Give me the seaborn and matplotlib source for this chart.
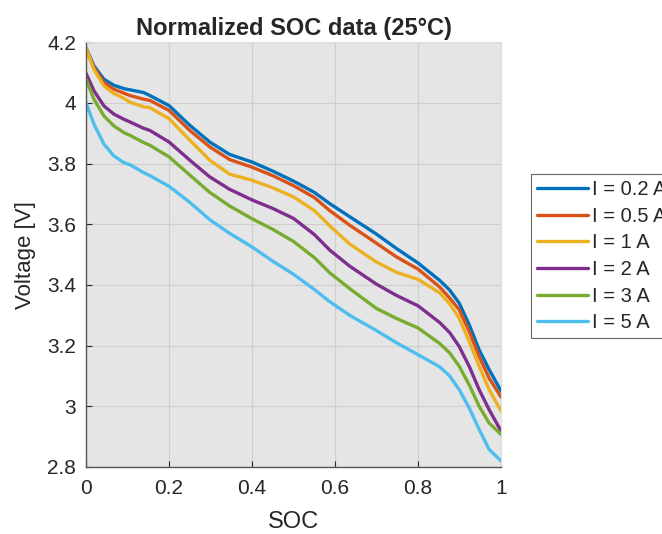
import numpy as np
import pandas as pd
import seaborn as sns
import matplotlib
matplotlib.use("Agg")
import matplotlib.pyplot as plt

# values
soc = [0, 0.019, 0.043, 0.067, 0.091, 0.106, 0.139, 0.154, 0.2, 0.25, 0.298, 0.346,
       0.4, 0.45, 0.5, 0.55, 0.587, 0.635, 0.699, 0.747, 0.8, 0.852, 0.876, 0.899,
       0.923, 0.947, 0.971, 1.0]

v_02 = [4.18, 4.122, 4.078, 4.058, 4.047, 4.043, 4.034, 4.024, 3.991, 3.926, 3.871, 3.83,
        3.805, 3.775, 3.742, 3.705, 3.668, 3.625, 3.568, 3.521, 3.472, 3.415, 3.383, 3.34,
        3.269, 3.186, 3.121, 3.05]
v_05 = [4.18, 4.116, 4.067, 4.045, 4.032, 4.024, 4.012, 4.008, 3.975, 3.909, 3.855, 3.813,
        3.788, 3.76, 3.727, 3.688, 3.645, 3.597, 3.538, 3.493, 3.452, 3.393, 3.357, 3.318,
        3.247, 3.164, 3.093, 3.03]
v_1 = [4.18, 4.11, 4.056, 4.031, 4.015, 4.002, 3.987, 3.984, 3.948, 3.877, 3.811, 3.765,
       3.745, 3.72, 3.69, 3.645, 3.595, 3.535, 3.476, 3.442, 3.418, 3.374, 3.338, 3.29,
       3.214, 3.132, 3.055, 2.984]
v_2 = [4.097, 4.04, 3.99, 3.963, 3.946, 3.937, 3.916, 3.909, 3.871, 3.811, 3.756, 3.715,
       3.68, 3.652, 3.619, 3.566, 3.515, 3.462, 3.403, 3.366, 3.331, 3.276, 3.243, 3.197,
       3.132, 3.055, 2.989, 2.918]
v_3 = [4.078, 4.012, 3.957, 3.924, 3.902, 3.893, 3.869, 3.86, 3.822, 3.762, 3.705, 3.66,
       3.618, 3.583, 3.543, 3.49, 3.44, 3.388, 3.323, 3.29, 3.258, 3.207, 3.176, 3.132,
       3.071, 3.0, 2.945, 2.907]
v_5 = [4.0, 3.93, 3.864, 3.825, 3.803, 3.796, 3.77, 3.76, 3.725, 3.672, 3.615, 3.57,
       3.525, 3.478, 3.435, 3.385, 3.345, 3.3, 3.25, 3.21, 3.17, 3.13, 3.10, 3.055,
       2.995, 2.924, 2.858, 2.82]

labels = ["I = 0.2 A", "I = 0.5 A", "I = 1 A", "I = 2 A", "I = 3 A", "I = 5 A"]
colors = ["#0072BD", "#D95319", "#EDB120", "#7E2F8E", "#77AC30", "#4DBEEE"]

xticks = [0, 0.2, 0.4, 0.6, 0.8, 1.0]
xticklabels = ["0", "0.2", "0.4", "0.6", "0.8", "1"]
yticks = [2.8, 3.0, 3.2, 3.4, 3.6, 3.8, 4.0, 4.2]
yticklabels = ["2.8", "3", "3.2", "3.4", "3.6", "3.8", "4", "4.2"]

rows = []
for lab, vals in zip(labels, [v_02, v_05, v_1, v_2, v_3, v_5]):
    for s, v in zip(soc, vals):
        rows.append({"SOC": s, "Voltage": v, "Current": lab})
df = pd.DataFrame(rows)

sns.set_theme(style="ticks")
plt.rcParams['font.family'] = ['Liberation Sans', 'DejaVu Sans']

fig = plt.figure(figsize=(6.62, 5.34), dpi=100)
ax = fig.add_axes([0.13, 0.1255, 0.627, 0.7955])
ax.set_facecolor("#e5e5e5")

sns.lineplot(data=df, x="SOC", y="Voltage", hue="Current", hue_order=labels,
             palette=colors, linewidth=2.4, ax=ax, legend=True)
for ln in ax.get_lines():
    ln.set_solid_joinstyle("round")

ax.set_xlim(0, 1)
ax.set_ylim(2.8, 4.2)
ax.set_xticks(xticks)
ax.set_xticklabels(xticklabels)
ax.set_yticks(yticks)
ax.set_yticklabels(yticklabels)
ax.grid(True, color="#cfcfcf", linewidth=0.8)
ax.set_axisbelow(True)
ax.tick_params(direction="in", length=4, width=0.8, labelsize=15, colors="#262626",
               top=False, right=False)
ax.tick_params(axis="x", pad=9)
ax.tick_params(axis="y", pad=7)
for side in ["left", "bottom"]:
    ax.spines[side].set_color("#555555")
    ax.spines[side].set_linewidth(1.0)
for side in ["top", "right"]:
    ax.spines[side].set_color("#dddddd")
    ax.spines[side].set_linewidth(0.8)

ax.set_xlabel("SOC", fontsize=17, color="#262626", labelpad=9)
ax.set_ylabel("Voltage [V]", fontsize=16, color="#262626", labelpad=8)
ax.set_title("Normalized SOC data (25°C)", fontsize=17, fontweight="bold", pad=5)

handles, _ = ax.get_legend_handles_labels()
leg = ax.legend(handles, labels, loc="upper left", bbox_to_anchor=(0.802, 0.674),
                bbox_transform=fig.transFigure, fontsize=14.5, frameon=True,
                fancybox=False, edgecolor="#444444", handlelength=2.55,
                handletextpad=0.2, labelspacing=0.38, borderpad=0.3,
                borderaxespad=0)
leg.get_frame().set_linewidth(0.8)
for line in leg.get_lines():
    line.set_linewidth(2.4)

fig.savefig("out.png", dpi=100)
